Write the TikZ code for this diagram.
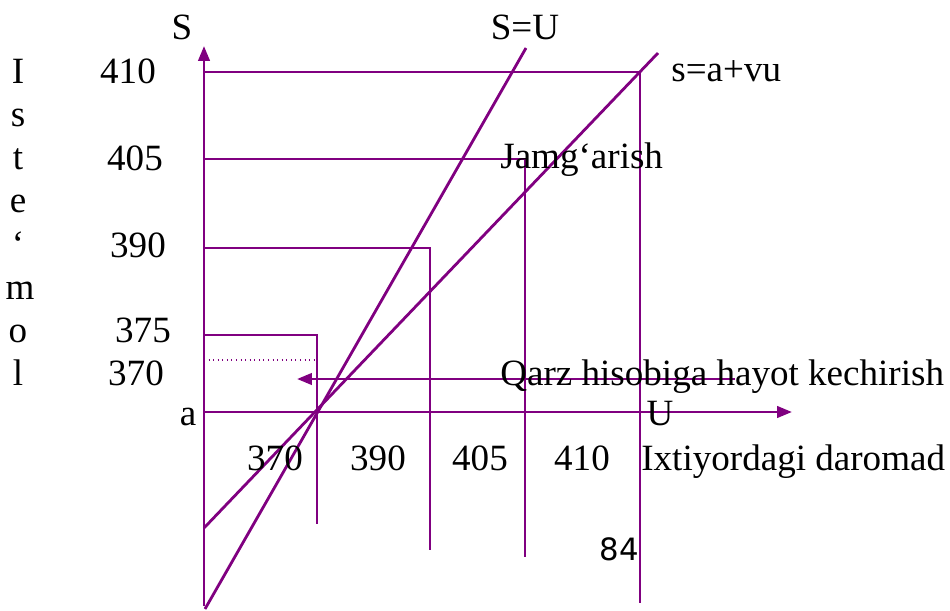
\documentclass[tikz,border=0pt]{standalone}
\usepackage{fontspec}
\setmainfont{Liberation Serif}
\newfontfamily\betfont{DejaVu Sans}
\usepackage{tikz}
\usetikzlibrary{arrows.meta,positioning}
\definecolor{grafik}{RGB}{128,0,128}

\begin{document}
\begin{tikzpicture}[x=0.02cm, y=-0.02cm,
                    chiziq/.style={draw=grafik, line width=1.6pt},
                    oq/.style={chiziq, -{Triangle[length=8.5pt,width=6.5pt]}},
                    yozuv/.style={anchor=base, inner sep=0pt, text=black, font=\fontsize{21.1}{25}\selectfont}]
                        \useasboundingbox (0,0) rectangle (950,611);
                        % o'qlar
                        \coordinate (ypast) at (204,606);
                        \coordinate (ytepa) at (204,46);
                        \coordinate (xchap) at (204,412);
                        \coordinate (xong) at (792,412);
                        \draw [oq] (ypast) -- (ytepa);
                        \draw [oq] (xchap) -- (xong);
                        % chiziqlar
                        \coordinate (su1) at (205,609);
                        \coordinate (su2) at (526,48);
                        \coordinate (sf1) at (204,528);
                        \coordinate (sf2) at (658,53);
                        \draw [chiziq] (su1) -- (su2);
                        \draw [chiziq] (sf1) -- (sf2);
                        \coordinate (s410) at (204,72);
                        \coordinate (p410) at (640,72);
                        \coordinate (b410) at (640,603);
                        \coordinate (s405) at (204,159);
                        \coordinate (p405) at (525,159);
                        \coordinate (b405) at (525,557);
                        \coordinate (s390) at (204,248);
                        \coordinate (p390) at (430,248);
                        \coordinate (b390) at (430,550);
                        \coordinate (s375) at (204,335);
                        \coordinate (p375) at (317,335);
                        \coordinate (b375) at (317,524);
                        \coordinate (s370) at (204,360);
                        \coordinate (p370) at (317,360);
                        \draw [chiziq] (s410) -- (p410) -- (b410);
                        \draw [chiziq] (s405) -- (p405) -- (b405);
                        \draw [chiziq] (s390) -- (p390) -- (b390);
                        \draw [chiziq] (s375) -- (p375) -- (b375);
                        \draw [draw=grafik, line width=0.6pt, dotted] (s370) -- (p370);
                        \coordinate (qarzA) at (735,379);
                        \coordinate (qarzB) at (297,379);
                        \draw [oq] (qarzA) -- (qarzB);
                        % yozuvlar
                        \node[yozuv] (lS) at (182,40) {S};
                        \node[yozuv] (lSU) at (525,40) {S=U};
                        \node[yozuv, anchor=base west] (lsf) at (671,82) {s=a+vu};
                        \node[yozuv, anchor=base west] (ljam) at (500,169) {Jamg‘arish};
                        \node[yozuv, anchor=base west] (lqarz) at (500,385) {Qarz hisobiga hayot kechirish};
                        \node[yozuv] (lU) at (660,425) {U};
                        \node[yozuv] (la) at (188,425) {a};
                        \node[yozuv] (x370) at (275,470) {370};
                        \node[yozuv] (x390) at (378,470) {390};
                        \node[yozuv] (x405) at (480,470) {405};
                        \node[yozuv] (x410) at (582,470) {410};
                        \node[yozuv, anchor=base west] (lix) at (641,470) {Ixtiyordagi daromad};
                        \node[anchor=base, inner sep=0pt, font=\betfont\fontsize{17.5}{20}\selectfont] (bet) at (619,560) {84};
                        \node[yozuv] (y410) at (128,84) {410};
                        \node[yozuv] (y405) at (135,171) {405};
                        \node[yozuv] (y390) at (138,257) {390};
                        \node[yozuv] (y375) at (143,342) {375};
                        \node[yozuv] (y370) at (136,385) {370};
                        \node[yozuv] (h1) at (18,84) {I};
                        \node[yozuv] (h2) at (18,127) {s};
                        \node[yozuv] (h3) at (18,170) {t};
                        \node[yozuv] (h4) at (18,213) {e};
                        \node[yozuv] (h5) at (18,256) {‘};
                        \node[yozuv] (h6) at (20,299) {m};
                        \node[yozuv] (h7) at (18,342) {o};
                        \node[yozuv] (h8) at (18,385) {l};
                        \end{tikzpicture}
\end{document}
